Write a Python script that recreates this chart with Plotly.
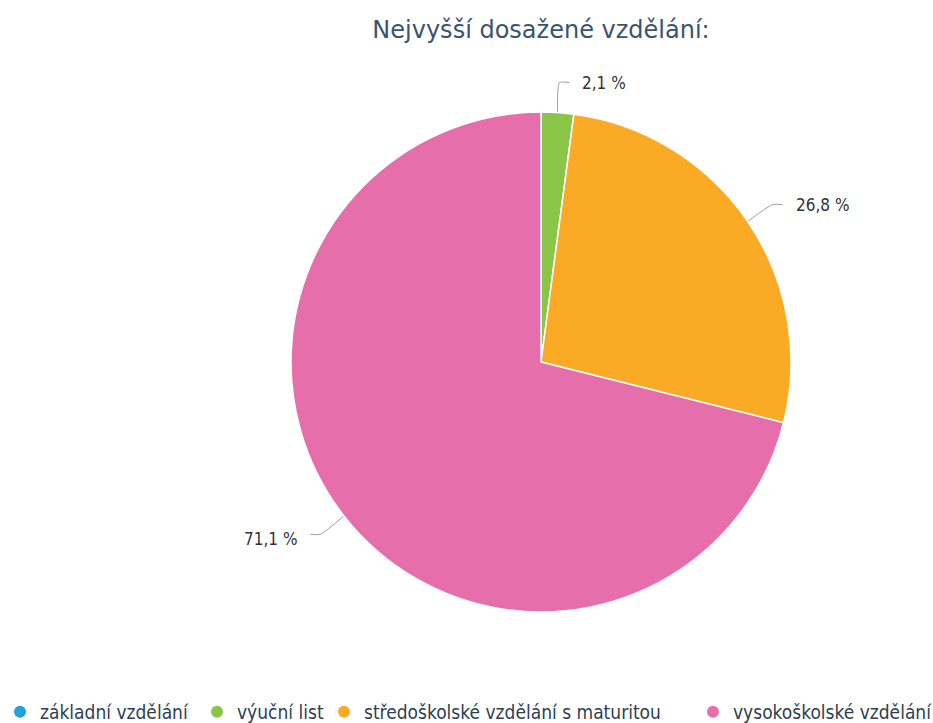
import math
import plotly.graph_objects as go

W, H = 933, 723

categories = ['základní vzdělání', 'výuční list',
              'středoškolské vzdělání s maturitou', 'vysokoškolské vzdělání']
values = [0.0, 2.1, 26.8, 71.1]
colors = ['#1fa3dc', '#8bc547', '#fbaa25', '#e66eab']
legend_x = [0, 197, 324, 693]   # left edge of each legend box (px)

# pie geometry (px)
cx, cy, r = 541, 362, 250
label_dist = 30

fig = go.Figure()

fig.add_trace(go.Pie(
    labels=categories, values=values, sort=False, direction='clockwise',
    rotation=0, textinfo='none', hoverinfo='label+percent',
    marker=dict(colors=colors, line=dict(color='white', width=1.5)),
    domain=dict(x=[(cx - r) / W, (cx + r) / W],
                y=[(H - cy - r) / H, (H - cy + r) / H]),
    showlegend=False,
))

# connectors and labels
total = sum(values)
cum = 0.0
annotations = []
for v in values:
    if v <= 0:
        continue
    mid = (cum + v / 2) / total * 2 * math.pi
    cum += v
    sx, sy = cx + r * math.sin(mid), cy - r * math.cos(mid)
    ex = cx + (r + label_dist) * math.sin(mid)
    ey = cy - (r + label_dist) * math.cos(mid)
    side = 1 if math.sin(mid) >= 0 else -1
    fig.add_trace(go.Scatter(
        x=[sx, ex, ex + side * 10], y=[sy, ey, ey], mode='lines',
        line=dict(color='#a0a0a0', width=1, shape='spline', smoothing=0.6),
        hoverinfo='skip', showlegend=False,
    ))
    annotations.append(dict(
        x=ex + side * 21, y=ey + (0 if side > 0 else 5), xref='x', yref='y',
        text=f'{v:.1f} %'.replace('.', ','), showarrow=False,
        xanchor='left' if side > 0 else 'right', yanchor='middle',
        font=dict(family='DejaVu Sans Condensed', size=17, color='#333333'),
    ))

# legend entries, one legend each so they sit where the original has them
for i, (name, col) in enumerate(zip(categories, colors)):
    lg = 'legend' if i == 0 else f'legend{i + 1}'
    fig.add_trace(go.Scatter(
        x=[None], y=[None], mode='markers', name=name,
        marker=dict(color=col, size=12, symbol='circle'),
        legend=lg, showlegend=True,
    ))

legend_style = dict(
    orientation='h', yanchor='middle', y=1 - 712 / H, xanchor='left',
    xref='container', yref='container',
    font=dict(family='DejaVu Sans Condensed', size=19, color='#2f3f50'),
    bgcolor='rgba(0,0,0,0)', itemwidth=30,
)
legends = {}
for i, lx in enumerate(legend_x):
    key = 'legend' if i == 0 else f'legend{i + 1}'
    legends[key] = dict(legend_style, x=lx / W)

fig.update_layout(
    width=W, height=H,
    margin=dict(l=0, r=0, t=0, b=0, autoexpand=False),
    paper_bgcolor='white', plot_bgcolor='rgba(0,0,0,0)',
    xaxis=dict(range=[0, W], visible=False, domain=[0, 1], fixedrange=True),
    yaxis=dict(range=[H, 0], visible=False, domain=[0, 1], fixedrange=True),
    title=dict(text='Nejvyšší dosažené vzdělání:', x=cx / W, xanchor='center',
               y=1 - 30 / H, yanchor='middle',
               font=dict(family='DejaVu Sans', size=24, color='#3a5470')),
    annotations=annotations,
    **legends,
)

# drop the browser's default body margin so the figure fills the window
fig.write_html('out.html', config={'displayModeBar': False},
               post_script="document.body.style.margin='0';")
